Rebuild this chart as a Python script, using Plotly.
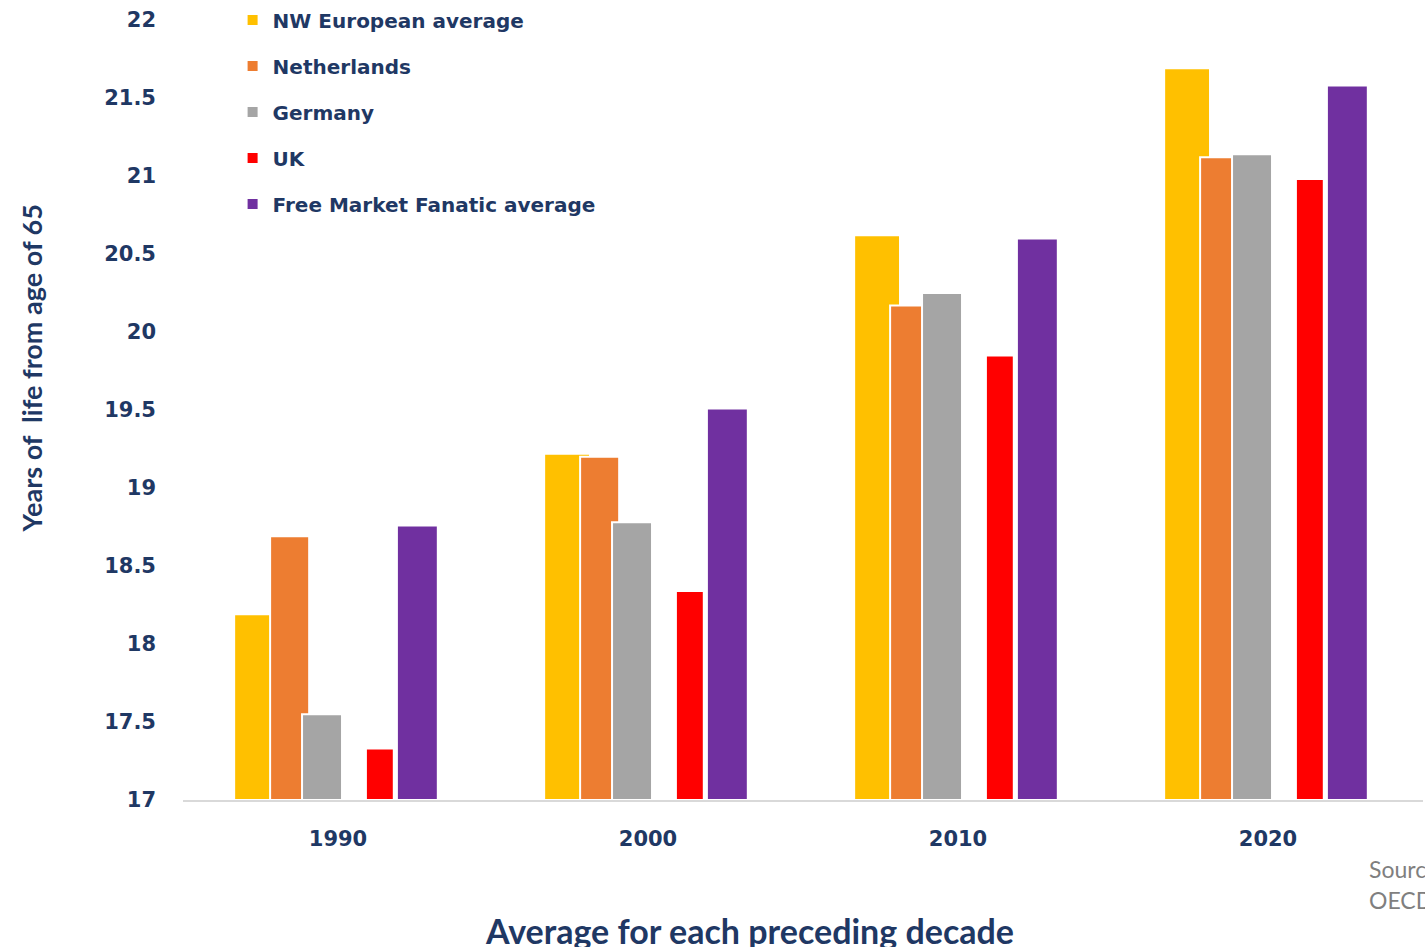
import plotly.graph_objects as go

decades = ["1990", "2000", "2010", "2020"]
series_names = ["NW European average", "Netherlands", "Germany", "UK", "Free Market Fanatic average"]
nw_europe = [18.19, 19.22, 20.62, 21.69]
netherlands = [18.69, 19.20, 20.17, 21.12]
germany = [17.55, 18.78, 20.25, 21.14]
uk = [17.33, 18.34, 19.85, 20.98]
free_market = [18.76, 19.51, 20.60, 21.58]
y_ticks = [17, 17.5, 18, 18.5, 19, 19.5, 20, 20.5, 21, 21.5, 22]
baseline = 17

values = [nw_europe, netherlands, germany, uk, free_market]
colors = ["#FFC000", "#ED7D31", "#A5A5A5", "#FF0000", "#7030A0"]
offsets = [-0.335, -0.219, -0.116, 0.090, 0.190]
widths = [0.148, 0.126, 0.129, 0.090, 0.132]

navy = "#1F3864"
fig = go.Figure()
for i, (name, vals) in enumerate(zip(series_names, values)):
    fig.add_trace(go.Bar(
        x=decades, y=[v - baseline for v in vals], base=baseline, name=name,
        offset=offsets[i], width=widths[i],
        marker=dict(color=colors[i], line=dict(color="white", width=2)),
        legendgroup=name,
        customdata=vals, hovertemplate="%{x}: %{customdata}<extra>" + name + "</extra>",
    ))

fig.update_layout(
    width=1425, height=947,
    barmode="overlay",
    plot_bgcolor="white", paper_bgcolor="white",
    margin=dict(l=183, r=2, t=20, b=147, autoexpand=False),
    font=dict(family="DejaVu Sans", color=navy),
    showlegend=True,
    legend=dict(
        x=0.040, y=1.0249, xanchor="left", yanchor="top",
        font=dict(family="DejaVu Sans", size=20, color=navy, weight="bold"),
        traceorder="grouped", tracegroupgap=17,
        bgcolor="rgba(0,0,0,0)", itemwidth=30,
    ),
    xaxis=dict(
        type="category", range=[-0.5, 3.5],
        showline=True, linecolor="#D9D9D9", linewidth=1.5,
        ticks="", showgrid=False,
        tickfont=dict(family="DejaVu Sans", size=21, color=navy, weight="bold"),
        ticklabelstandoff=19,
    ),
    yaxis=dict(
        range=[17, 22], tickvals=y_ticks,
        ticktext=[("%g" % t) for t in y_ticks],
        showgrid=False, zeroline=False, showline=False, ticks="",
        tickfont=dict(family="DejaVu Sans", size=21, color=navy, weight="bold"),
        ticklabelstandoff=26,
    ),
    annotations=[
        dict(text="Years of  life from age of 65", textangle=-90,
             xref="paper", yref="paper", x=-0.122, y=0.553, xanchor="center", yanchor="middle",
             showarrow=False, font=dict(family="Lato", size=27, color=navy, weight="bold")),
        dict(text="Average for each preceding decade",
             xref="paper", yref="paper", x=0.457, y=-0.1667, xanchor="center", yanchor="middle",
             showarrow=False, font=dict(family="Lato", size=34, color=navy, weight="bold")),
        dict(text="Source:",
             xref="paper", yref="paper", x=0.955, y=-0.0885, xanchor="left", yanchor="middle",
             showarrow=False, font=dict(family="Lato", size=23, color="#7F7F7F")),
        dict(text="OECD",
             xref="paper", yref="paper", x=0.955, y=-0.1282, xanchor="left", yanchor="middle",
             showarrow=False, font=dict(family="Lato", size=23, color="#7F7F7F")),
    ],
)

# remove the default 8px body margin so the 1425x947 figure fills the window exactly
fig.write_html("out.html", config={"displayModeBar": False},
               post_script="document.body.style.margin='0px';document.body.style.overflow='hidden';")
